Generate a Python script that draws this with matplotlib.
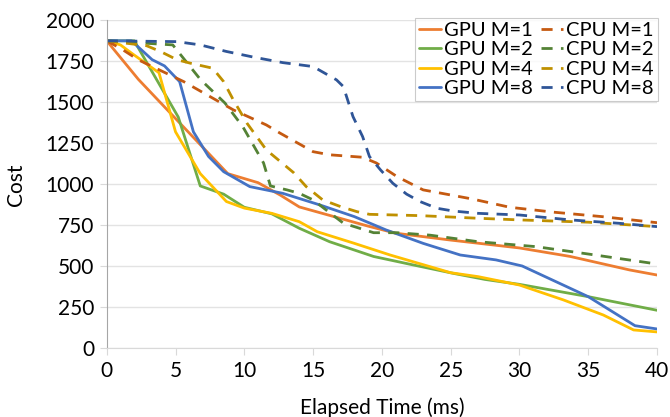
import matplotlib
matplotlib.use("Agg")
import matplotlib.pyplot as plt

# elapsed time (ms) / cost
gpu1_t = [0, 2.3, 8.8, 11.0, 12.6, 14.0, 19.0, 21.0, 25.0, 30.0, 33.7, 38.0, 40.0]
gpu1_c = [1875, 1640, 1065, 1010, 935, 862, 745, 702, 660, 612, 560, 478, 447]

gpu2_t = [0, 2.0, 5.2, 6.8, 8.5, 10.0, 12.0, 14.0, 16.2, 19.4, 22.3, 25.2, 27.5, 30.0, 35.0, 40.0]
gpu2_c = [1875, 1875, 1410, 990, 940, 860, 820, 732, 650, 560, 508, 457, 420, 390, 315, 232]

gpu4_t = [0, 1.0, 1.8, 3.8, 5.0, 6.8, 8.7, 10.0, 12.0, 14.0, 15.3, 18.0, 20.6, 25.0, 27.0, 30.0, 33.2, 36.1, 38.3, 40.0]
gpu4_c = [1875, 1850, 1800, 1680, 1320, 1065, 895, 855, 823, 772, 711, 640, 569, 461, 437, 386, 295, 203, 112, 100]

gpu8_t = [0, 1.8, 3.3, 4.2, 5.3, 6.3, 7.4, 8.5, 10.4, 12.8, 15.5, 18.0, 20.3, 23.0, 25.7, 28.3, 30.2, 35.0, 38.4, 40.0]
gpu8_c = [1875, 1875, 1760, 1722, 1626, 1320, 1170, 1077, 986, 945, 874, 803, 722, 640, 569, 539, 502, 315, 138, 118]

cpu1_t = [0, 1.1, 2.3, 5.6, 9.2, 11.6, 12.6, 15.0, 16.2, 18.6, 19.6, 21.1, 23.0, 25.0, 26.6, 29.3, 32.5, 36.0, 40.0]
cpu1_c = [1875, 1824, 1759, 1626, 1454, 1362, 1312, 1199, 1180, 1165, 1130, 1047, 966, 935, 910, 860, 830, 803, 766]

cpu2_t = [0, 4.8, 6.8, 8.6, 9.9, 11.4, 11.9, 13.1, 14.0, 15.0, 17.2, 19.4, 21.1, 23.5, 27.0, 31.2, 35.0, 40.0]
cpu2_c = [1875, 1850, 1640, 1495, 1350, 1130, 990, 966, 945, 905, 763, 705, 705, 690, 650, 620, 575, 514]

cpu4_t = [0, 2.9, 3.9, 5.1, 6.1, 7.7, 8.5, 9.2, 10.2, 11.6, 13.6, 14.5, 15.7, 17.0, 18.2, 19.1, 22.8, 27.0, 30.0, 35.0, 40.0]
cpu4_c = [1875, 1845, 1810, 1760, 1738, 1708, 1626, 1515, 1372, 1210, 1070, 986, 905, 864, 833, 817, 809, 793, 783, 769, 742]

cpu8_t = [0, 5.1, 6.8, 8.7, 10.7, 12.8, 15.0, 16.7, 17.2, 17.9, 18.6, 19.1, 19.9, 20.8, 21.8, 22.8, 24.0, 25.2, 27.0, 30.0, 33.7, 37.3, 40.0]
cpu8_c = [1875, 1870, 1850, 1810, 1775, 1742, 1718, 1637, 1596, 1413, 1291, 1169, 1088, 1006, 940, 894, 854, 837, 823, 813, 783, 762, 742]

plt.rcParams['font.family'] = ['Lato', 'DejaVu Sans']

fig = plt.figure(figsize=(6.7, 4.17), dpi=100)
ax = fig.add_axes([0.1593, 0.1647, 0.8213, 0.7866])

solid = dict(lw=2.0, solid_capstyle='round', solid_joinstyle='round')
dash = dict(lw=2.0, ls=(0, (4, 3)), dash_joinstyle='round')

ax.plot(gpu1_t, gpu1_c, color='#ED7D31', label='GPU M=1', **solid)
ax.plot(gpu2_t, gpu2_c, color='#70AD47', label='GPU M=2', **solid)
ax.plot(gpu4_t, gpu4_c, color='#FFC000', label='GPU M=4', **solid)
ax.plot(gpu8_t, gpu8_c, color='#4472C4', label='GPU M=8', **solid)
ax.plot(cpu1_t, cpu1_c, color='#C55A11', label='CPU M=1', **dash)
ax.plot(cpu2_t, cpu2_c, color='#548235', label='CPU M=2', **dash)
ax.plot(cpu4_t, cpu4_c, color='#BF9000', label='CPU M=4', **dash)
ax.plot(cpu8_t, cpu8_c, color='#2F5597', label='CPU M=8', **dash)

ax.set_xlim(0, 40)
ax.set_ylim(0, 2000)
ax.set_xticks(range(0, 41, 5))
ax.set_yticks(range(0, 2001, 250))
ax.grid(axis='y', color='#E3E3E3', lw=1.0)
ax.set_axisbelow(True)

for s in ['top', 'right']:
    ax.spines[s].set_visible(False)
ax.spines['left'].set_color('#A6A6A6')
ax.spines['bottom'].set_color('#D9D9D9')
ax.tick_params(axis='both', length=5, color='#D9D9D9', labelsize=15, pad=4)

ax.set_xlabel('Elapsed Time (ms)', fontsize=15, labelpad=12)
ax.set_ylabel('Cost', fontsize=15, labelpad=14)

leg = ax.legend(ncol=2, loc='upper right', bbox_to_anchor=(0.982, 0.958),
                bbox_transform=fig.transFigure, fontsize=14.5, frameon=True,
                fancybox=False, edgecolor='#BFBFBF', handlelength=1.1,
                handletextpad=0.15, columnspacing=0.4, labelspacing=0.12,
                borderpad=0.2, borderaxespad=0)
leg.get_frame().set_linewidth(0.8)

fig.savefig('out.png', dpi=100)
